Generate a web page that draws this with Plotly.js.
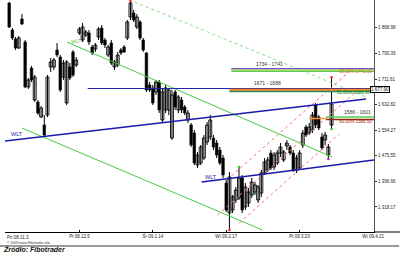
<!DOCTYPE html>
<html><head><meta charset="utf-8">
<script src="https://cdn.plot.ly/plotly-3.0.1.min.js"></script>
<style>html,body{margin:0;padding:0;background:#fff}#c{width:400px;height:254px}</style>
</head><body><div id="c"></div>
<script>
// session index (trading days from 2008-11-03)
const idx = Array.from({length:102},(_, k)=>k+1);
const open = [
1945.3,1862.3,1834.6,1806.9,1896.1,1825.4,1687.1,1745.5,1647.1,1641.0,
1594.8,1570.3,1601.0,1748.5,1748.5,1800.8,1779.3,1717.8,1637.9,1748.5,
1794.7,1754.7,1853.1,1831.5,1846.9,1853.1,1810.0,1803.9,1840.8,1868.4,
1831.5,1785.4,1822.3,1748.5,1754.7,1800.8,1810.0,1837.7,1902.2,1914.5,
1871.5,1886.9,1831.5,1791.6,1693.2,1684.0,1671.7,1702.4,1585.6,1616.4,
1616.4,1530.3,1671.7,1616.4,1647.1,1625.6,1585.6,1570.3,1545.7,1447.3,
1453.4,1468.8,1518.0,1533.4,1530.3,1514.9,1493.4,1468.8,1392.0,1299.7,
1309.0,1339.7,1345.9,1407.3,1318.2,1330.5,1355.1,1364.3,1339.7,1361.2,
1422.7,1431.9,1484.2,1441.1,1453.4,1484.2,1462.7,1505.7,1502.6,1484.2,
1431.9,1438.1,1508.8,1564.1,1545.7,1554.9,1631.7,1594.8,1533.4,1524.1,
1478.0,1570.3];
const high = [
1948.4,1868.4,1840.8,1843.8,1911.5,1831.5,1714.7,1751.6,1724.0,1647.1,
1628.7,1601.0,1724.0,1776.2,1776.2,1822.3,1785.4,1770.1,1770.1,1760.8,
1800.8,1779.3,1871.5,1883.8,1862.3,1862.3,1816.2,1822.3,1871.5,1877.6,
1837.7,1816.2,1831.5,1770.1,1794.7,1806.9,1816.2,1893.0,1951.4,1923.8,
1911.5,1893.0,1837.7,1794.7,1702.4,1693.2,1708.6,1708.6,1684.0,1693.2,
1684.0,1677.9,1677.9,1662.5,1656.3,1631.7,1616.4,1576.4,1554.9,1487.3,
1508.8,1539.5,1579.5,1601.0,1539.5,1524.1,1502.6,1478.0,1401.2,1425.8,
1355.1,1379.7,1438.1,1416.5,1392.0,1376.6,1407.3,1395.0,1385.8,1431.9,
1468.8,1471.9,1493.4,1487.3,1493.4,1514.9,1493.4,1524.1,1508.8,1493.4,
1478.0,1493.4,1554.9,1570.3,1576.4,1610.2,1637.9,1601.0,1545.7,1548.7,
1511.8,1714.7];
const low = [
1868.4,1831.5,1800.8,1803.9,1877.6,1684.0,1681.0,1702.4,1641.0,1601.0,
1591.8,1533.4,1594.8,1733.2,1739.3,1779.3,1671.7,1708.6,1631.7,1708.6,
1717.8,1748.5,1846.9,1825.4,1840.8,1816.2,1785.4,1794.7,1831.5,1816.2,
1806.9,1779.3,1754.7,1739.3,1748.5,1785.4,1791.6,1831.5,1893.0,1886.9,
1865.4,1831.5,1794.7,1671.7,1671.7,1631.7,1662.5,1607.1,1576.4,1607.1,
1601.0,1524.1,1616.4,1607.1,1607.1,1601.0,1576.4,1502.6,1447.3,1438.1,
1447.3,1462.7,1508.8,1524.1,1493.4,1468.8,1447.3,1407.3,1302.8,1247.5,
1299.7,1330.5,1339.7,1299.7,1309.0,1318.2,1345.9,1355.1,1330.5,1349.0,
1416.5,1425.8,1431.9,1431.9,1447.3,1471.9,1456.5,1493.4,1478.0,1425.8,
1422.7,1431.9,1499.6,1533.4,1539.5,1545.7,1561.0,1554.9,1493.4,1508.8,
1468.8,1561.0];
const close = [
1871.5,1837.7,1806.9,1837.7,1880.7,1687.1,1708.6,1708.6,1717.8,1607.1,
1622.5,1539.5,1717.8,1763.9,1770.1,1785.4,1677.9,1760.8,1763.9,1714.7,
1724.0,1770.1,1865.4,1871.5,1856.1,1825.4,1791.6,1816.2,1865.4,1822.3,
1816.2,1810.0,1760.8,1763.9,1785.4,1791.6,1794.7,1886.9,1945.3,1893.0,
1902.2,1837.7,1800.8,1677.9,1677.9,1637.9,1702.4,1616.4,1671.7,1684.0,
1677.9,1662.5,1625.6,1656.3,1616.4,1607.1,1607.1,1508.8,1453.4,1478.0,
1502.6,1530.3,1570.3,1585.6,1502.6,1478.0,1453.4,1416.5,1309.0,1410.4,
1349.0,1370.4,1407.3,1309.0,1379.7,1364.3,1395.0,1385.8,1379.7,1422.7,
1456.5,1462.7,1438.1,1478.0,1484.2,1502.6,1487.3,1514.9,1484.2,1431.9,
1468.8,1484.2,1545.7,1539.5,1564.1,1601.0,1570.3,1561.0,1499.6,1539.5,
1502.6,1634.8];

const xTickVals = [0,23,46,69,92,115];
const xTickText = ["Pn 08.11.3","Pt 08.12.5","Śr 09.1.14","Wt 09.2.17","Pt 09.3.20","Wt 09.4.21"];
const yTickText = ["1 318.17","1 396.66","1 475.55","1 554.27","1 632.82","1 711.61","1 790.39","1 868.98"];
const yTickVals = yTickText.map(s=>parseFloat(s.replace(/\s/g,'')));

// trend lines: [[start index, start price],[end index, end price]]
const greenUpper = [[19.1,1825.4],[102.2,1471.9]];
const greenLower = [[5.0,1561.0],[80.3,1247.5]];
const greenDotted = [[40.3,1948.4],[112.8,1656.3]];
const blueUpper = [[-0.3,1521.1],[112.8,1650.2]];
const blueLower = [[61.3,1395.0],[115.3,1462.7]];
const redUpper = [[70.6,1413.5],[108.1,1739.3]];
const redMiddle = [[66.3,1293.6],[110.6,1680.9]];
const redLower = [[73.1,1269.0],[104.4,1542.6]];

// fibo levels
const zoneA = {label:"1734 - 1741", start:70.6, levels:[1742.4,1739.3,1735.3], tag:"38.20% 1741.10"};
const zoneB = {label:"1671 - 1688", start:70.0, levels:[1682.5,1677.9,1673.2], tag:"61.80% 1688.30", lineStart:25.6};
const zoneC = {label:"1586 - 1601", start:100.3, levels:[1594.8,1587.2,1590.2], tag:"50.00% 1586.50", shortStart:95};
const lastPrice = "1 677.90";
const lastPriceVal = 1677.9;

// ---- candle geometry built from the OHLC arrays ----
const wx = [], wy = [];
idx.forEach((d,k)=>{ wx.push(d,d,null); wy.push(low[k],high[k],null); });
function bodies(up){
  const x=[],b=[],h=[];
  idx.forEach((d,k)=>{
    const isUp = close[k]>=open[k];
    if(isUp===up){ x.push(d); b.push(Math.min(open[k],close[k])); h.push(Math.max(Math.abs(close[k]-open[k]),0.8)); }
  });
  return {x,b,h};
}
const ub = bodies(true), db = bodies(false);
const wicks = {type:'scatter',mode:'lines',x:wx,y:wy,line:{color:'#000',width:1},hoverinfo:'skip',showlegend:false};
const upBars = {type:'bar',x:ub.x,y:ub.h,base:ub.b,width:0.92,marker:{color:'#fff',line:{color:'#000',width:0.9}},hoverinfo:'skip',showlegend:false};
const dnBars = {type:'bar',x:db.x,y:db.h,base:db.b,width:0.8,marker:{color:'#000',line:{color:'#000',width:0.6}},hoverinfo:'skip',showlegend:false};

const X1 = 115.3;
function seg(p, color, width, dash){
  return {type:'line',xref:'x',yref:'y',x0:p[0][0],y0:p[0][1],x1:p[1][0],y1:p[1][1],
    line:{color:color,width:width,dash:dash||'solid'}};
}
function hl(x0,x1,y,color,width){
  return {type:'line',xref:'x',yref:'y',x0:x0,x1:x1,y0:y,y1:y,line:{color:color,width:width}};
}
const shapes = [
  seg(greenDotted,'#7ee07e',1,'dot'),
  seg(greenUpper,'#44cc44',1),
  seg(greenLower,'#44cc44',1),
  seg(redUpper,'#ff7070',1,'dot'),
  seg(redMiddle,'#ff7070',1,'dot'),
  seg(redLower,'#ff7070',1,'dot'),
  seg(blueUpper,'#1a1aaa',1.6),
  seg(blueLower,'#1a1aaa',1.6),
  hl(zoneA.start,X1,zoneA.levels[0],'#2222bb',1.5),
  hl(zoneA.start,X1,zoneA.levels[1],'#f0e070',1.5),
  hl(zoneA.start,X1,zoneA.levels[2],'#55cc55',1.5),
  hl(zoneB.lineStart,X1,zoneB.levels[0],'#2222aa',1.2),
  hl(zoneB.start,X1,zoneB.levels[1],'#ff8c1a',2.5),
  hl(zoneB.start,X1,zoneB.levels[2],'#2a8a6a',1.5),
  hl(zoneC.start,X1,zoneC.levels[0],'#55cc55',1.5),
  hl(zoneC.start,X1,zoneC.levels[1],'#8a2a10',1.5),
  hl(zoneC.shortStart,zoneC.start,zoneC.levels[2],'#ff9933',1.5),
  {type:'line',xref:'paper',yref:'paper',x0:1,x1:1.072,y0:0,y1:0,line:{color:'#000',width:1}},
  {type:'line',xref:'paper',yref:'paper',x0:-0.014,x1:1.068,y0:-0.06,y1:-0.06,line:{color:'#9a9a9a',width:2}}
];

const fnt = 'Liberation Sans, Arial, sans-serif';
const annotations = [
  {x:zoneA.start+12,y:zoneA.levels[0],text:zoneA.label,showarrow:false,yanchor:'bottom',font:{size:5,color:'#333',family:fnt}},
  {x:zoneB.start+12,y:zoneB.levels[0],text:zoneB.label,showarrow:false,yanchor:'bottom',font:{size:5,color:'#333',family:fnt}},
  {x:110,y:zoneC.levels[0],text:zoneC.label,showarrow:false,yanchor:'bottom',font:{size:5,color:'#333',family:fnt}},
  {x:115.2,y:zoneA.levels[2],text:zoneA.tag,showarrow:false,xanchor:'right',yanchor:'middle',font:{size:4.5,color:'#e07000',family:fnt}},
  {x:114.6,y:zoneB.levels[2]-2,text:zoneB.tag,showarrow:false,xanchor:'right',yanchor:'middle',font:{size:4.5,color:'#118811',family:fnt}},
  {x:115.2,y:zoneC.levels[1]-5,text:zoneC.tag,showarrow:false,xanchor:'right',yanchor:'middle',font:{size:4.5,color:'#aa2200',family:fnt}},
  {x:22,y:1830,text:'WLT',showarrow:false,textangle:-10,font:{size:5,color:'#33bb33',family:fnt}},
  {x:3.5,y:1543,text:'WLT',showarrow:false,font:{size:5.5,color:'#1a1aaa',family:fnt}},
  {x:64.2,y:1410,text:'WLT',showarrow:false,font:{size:5.5,color:'#1a1aaa',family:fnt}},
  {xref:'paper',x:1.043,y:lastPriceVal,text:lastPrice,showarrow:false,bgcolor:'#fff',bordercolor:'#000',borderwidth:1,borderpad:0,font:{size:4.5,color:'#000',family:fnt}},
  {x:-0.3,y:0,yref:'paper',xanchor:'left',yanchor:'top',yshift:-1,text:xTickText[0],showarrow:false,font:{size:4.5,color:'#222',family:fnt}},
  {xref:'paper',yref:'paper',x:0,y:-0.047,xanchor:'left',yanchor:'middle',text:'© 2009 www.Fibotrader.info',showarrow:false,font:{size:3.5,color:'#333',family:fnt}},
  {xref:'paper',yref:'paper',x:-0.011,y:-0.075,xanchor:'left',yanchor:'middle',text:'<b><i>Źródło: Fibotrader</i></b>',showarrow:false,font:{size:7,color:'#111',family:fnt}}
];

const markers = {type:'scatter',mode:'markers',x:[39,70,73,101,102,102],y:[1951.4,1247.5,1441,1466,1558,1717],
  marker:{size:2.5,color:['#ff2020','#ff2020','#22cc22','#aa22cc','#22cc22','#ff2020']},hoverinfo:'skip',showlegend:false};

Plotly.newPlot('c',[wicks,upBars,dnBars,markers],{
  width:400,height:254,margin:{l:5,r:26,t:0,b:22,pad:0},barmode:'overlay',
  paper_bgcolor:'#fff',plot_bgcolor:'#fff',showlegend:false,
  xaxis:{range:[-0.31,115.3],tickvals:xTickVals,ticktext:['',...xTickText.slice(1)],showgrid:false,zeroline:false,
    showline:true,linecolor:'#000',linewidth:1,ticks:'inside',ticklen:2,tickcolor:'#000',
    tickfont:{size:4.5,family:fnt,color:'#222'},fixedrange:true},
  yaxis:{side:'right',range:[1241.3,1954.5],tickvals:yTickVals,ticktext:yTickText,showgrid:false,zeroline:false,
    showline:true,linecolor:'#555',linewidth:1,ticks:'outside',ticklen:2,tickcolor:'#333',
    tickfont:{size:4.5,family:fnt,color:'#222'},fixedrange:true},
  shapes:shapes,annotations:annotations
},{staticPlot:true});
</script></body></html>
